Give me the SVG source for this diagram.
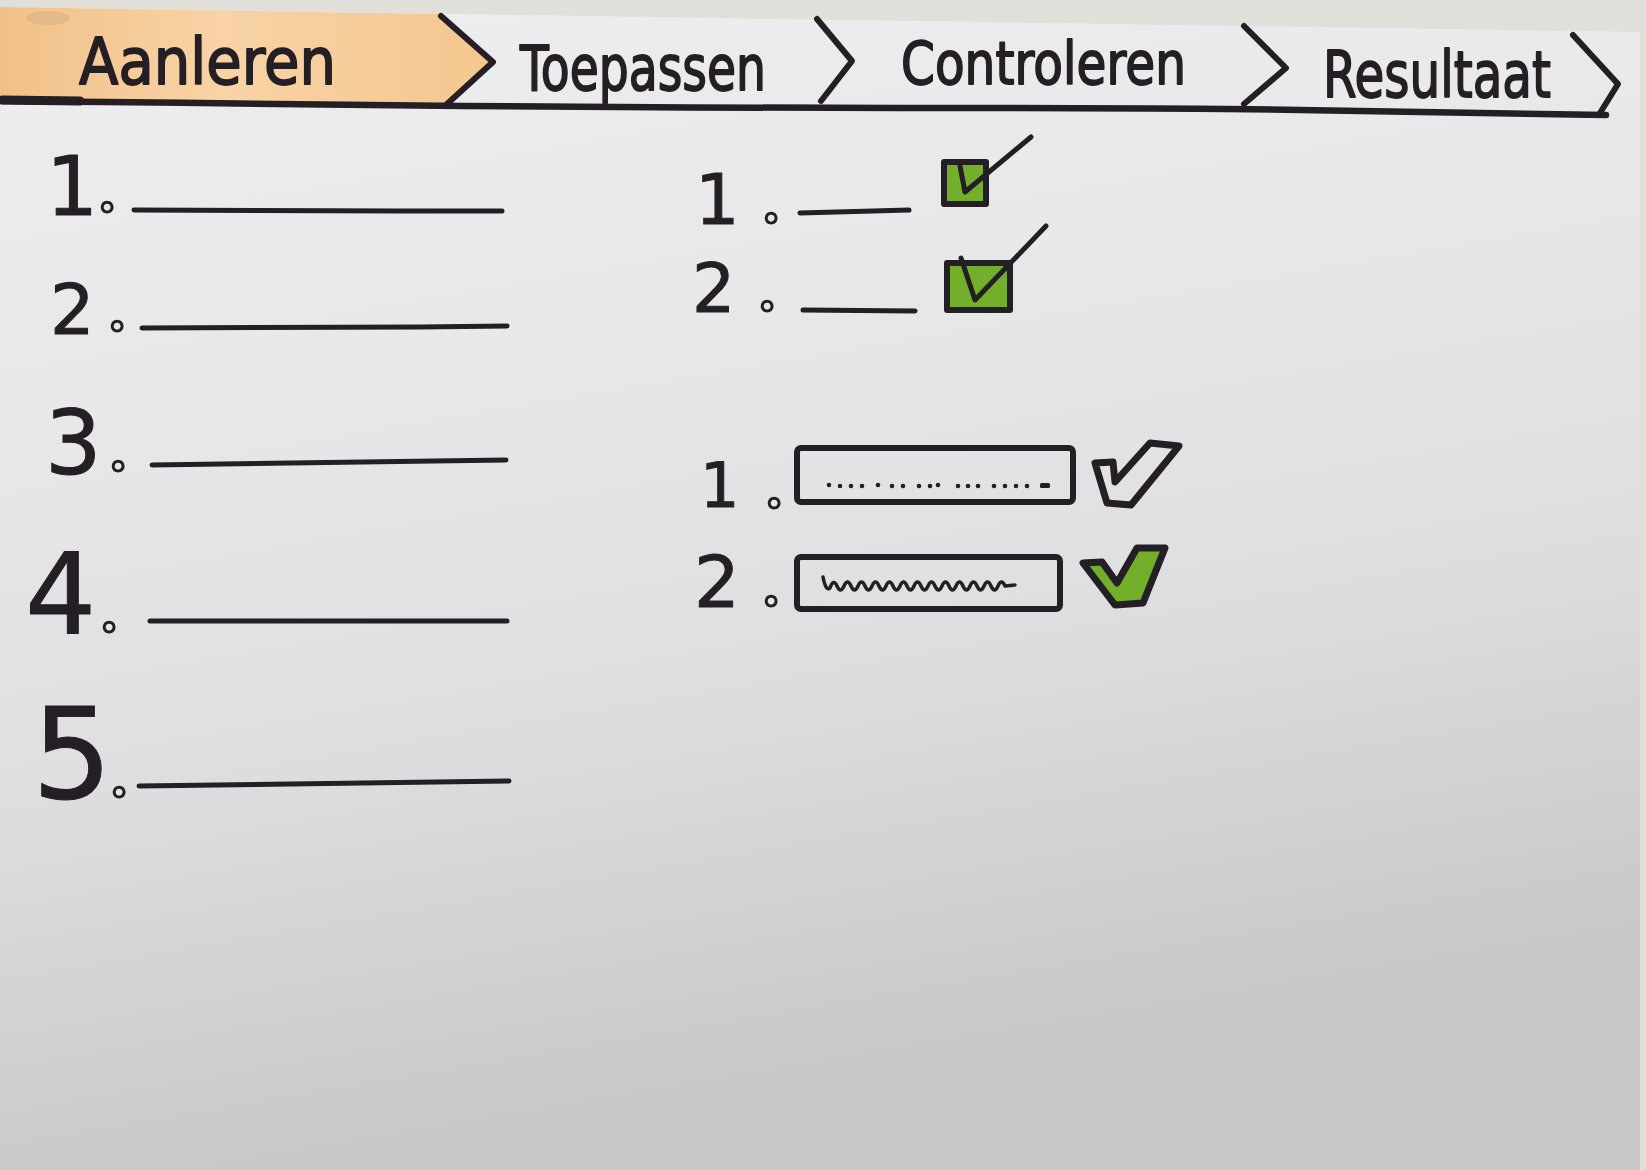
<svg xmlns="http://www.w3.org/2000/svg" width="1646" height="1170" viewBox="0 0 1646 1170">
  <defs>
    <linearGradient id="paper" gradientUnits="userSpaceOnUse" x1="0" y1="0" x2="200" y2="1170">
      <stop offset="0" stop-color="#eeeef0"/>
      <stop offset="0.35" stop-color="#e8e8ea"/>
      <stop offset="0.65" stop-color="#dfdfe1"/>
      <stop offset="1" stop-color="#c9c7ca"/>
    </linearGradient>
    <linearGradient id="tape" x1="0" y1="0" x2="1" y2="0">
      <stop offset="0" stop-color="#f1c088"/>
      <stop offset="0.45" stop-color="#f8d3a6"/>
      <stop offset="1" stop-color="#f5c68f"/>
    </linearGradient>
    <style>
      .ink { fill: none; stroke: #231f24; stroke-linecap: round; stroke-linejoin: round; }
      .rule { stroke-width: 5; }
      .box { fill: #74af2c; stroke: #231f24; stroke-width: 6; stroke-linejoin: round; }
      .tick { fill: none; stroke: #231f24; stroke-width: 5; stroke-linecap: round; stroke-linejoin: round; }
      .label { font-family: "DejaVu Sans", "Liberation Sans", sans-serif; fill: #231f24; stroke: #231f24; stroke-width: 1.8; stroke-linejoin: round; }
      .num { font-family: "DejaVu Sans", "Liberation Sans", sans-serif; fill: #231f24; stroke: #231f24; stroke-width: 1; }
      .dot { font-family: Lato, "Noto Sans", sans-serif; font-weight: 900; font-size: 60px; fill: #e6e6e8; stroke: #231f24; stroke-width: 3; }
      .field { fill: none; stroke: #231f24; stroke-width: 6; stroke-linejoin: round; }
      .mark { fill: #231f24; }
    </style>
  </defs>

  <!-- desk and sheet -->
  <rect x="0" y="0" width="1646" height="1170" fill="#e0dfda"/>
  <polygon points="0,7 1640,32 1640,1170 0,1170" fill="url(#paper)"/>

  <!-- step bar -->
  <g id="tab-bar">
    <polygon points="0,7 441,14 493,63 446,104 0,101" fill="url(#tape)"/>
    <ellipse cx="48" cy="18" rx="22" ry="7" fill="#8a8070" opacity="0.15"/>
    <path class="ink" d="M0,101 C150,102 330,105 462,106 C600,107 760,108 900,108 C1050,108 1200,108 1300,110 C1420,112 1540,114 1606,115" stroke-width="6.5"/>
    <path class="ink" d="M2,100 L80,101" stroke-width="9"/>
  </g>

  <g id="tab-aanleren">
    <text class="label" x="79" y="84" font-size="64" textLength="257" lengthAdjust="spacingAndGlyphs">Aanleren</text>
    <path class="ink" d="M441,16 L493,62 L447,104" stroke-width="6"/>
  </g>
  <g id="tab-toepassen">
    <text class="label" x="520" y="90" font-size="62" textLength="246" lengthAdjust="spacingAndGlyphs">Toepassen</text>
    <path class="ink" d="M817,19 L852,61 L821,101" stroke-width="6"/>
  </g>
  <g id="tab-controleren">
    <text class="label" x="901" y="84" font-size="58" textLength="285" lengthAdjust="spacingAndGlyphs">Controleren</text>
    <path class="ink" d="M1244,26 L1286,68 L1244,104" stroke-width="6"/>
  </g>
  <g id="tab-resultaat">
    <text class="label" x="1323" y="97" font-size="64" textLength="228" lengthAdjust="spacingAndGlyphs">Resultaat</text>
    <path class="ink" d="M1573,35 L1618,84 L1600,113" stroke-width="6"/>
  </g>

  <!-- numbered blank lines -->
  <g id="list-1">
    <text class="num" x="46" y="215" font-size="82">1<tspan class="dot" x="100" y="212">.</tspan></text>
    <path class="ink rule" d="M134,210 L400,211 L502,211"/>
  </g>
  <g id="list-2">
    <text class="num" x="50" y="334" font-size="70">2<tspan class="dot" x="110" y="331">.</tspan></text>
    <path class="ink rule" d="M142,328 L420,327 L507,326"/>
  </g>
  <g id="list-3">
    <text class="num" x="45" y="474" font-size="89">3<tspan class="dot" x="111" y="471">.</tspan></text>
    <path class="ink rule" d="M152,465 L506,460"/>
  </g>
  <g id="list-4">
    <text class="num" x="25" y="633" font-size="112">4<tspan class="dot" x="102" y="632">.</tspan></text>
    <path class="ink rule" d="M150,621 L507,621"/>
  </g>
  <g id="list-5">
    <text class="num" x="32" y="798" font-size="126">5<tspan class="dot" x="112" y="797">.</tspan></text>
    <path class="ink rule" d="M139,786 L509,781"/>
  </g>

  <!-- checkbox answers -->
  <g id="check-1">
    <text class="num" x="695" y="224" font-size="70">1<tspan class="dot" x="764" y="223">.</tspan></text>
    <path class="ink rule" d="M800,213 L909,210"/>
    <rect class="box" x="944" y="162" width="42" height="42"/>
    <path class="tick" d="M960,166 L965,192 L1031,137"/>
  </g>
  <g id="check-2">
    <text class="num" x="692" y="312" font-size="68">2<tspan class="dot" x="760" y="311">.</tspan></text>
    <path class="ink rule" d="M803,310 L915,311"/>
    <rect class="box" x="947" y="263" width="63" height="47"/>
    <path class="tick" d="M961,258 L975,300 L1046,226"/>
  </g>

  <!-- text field answers -->
  <g id="field-1">
    <text class="num" x="700" y="507" font-size="62">1<tspan class="dot" x="767" y="508">.</tspan></text>
    <rect class="field" x="797" y="448" width="276" height="54" rx="4"/>
    <g class="mark">
      <circle cx="829" cy="485" r="2.3"/><circle cx="840" cy="486" r="2.3"/><circle cx="851" cy="486" r="2.3"/>
      <circle cx="862" cy="486" r="2.3"/><circle cx="878" cy="485" r="2.3"/><circle cx="892" cy="486" r="2.3"/>
      <circle cx="903" cy="486" r="2.3"/><circle cx="919" cy="486" r="2.3"/><circle cx="930" cy="486" r="2.3"/>
      <circle cx="938" cy="485" r="2.3"/><circle cx="958" cy="486" r="2.3"/><circle cx="968" cy="486" r="2.3"/>
      <circle cx="978" cy="486" r="2.3"/><circle cx="994" cy="486" r="2.3"/><circle cx="1005" cy="486" r="2.3"/>
      <circle cx="1016" cy="486" r="2.3"/><circle cx="1027" cy="486" r="2.3"/>
      <rect x="1040" y="483" width="10" height="5" rx="1.5"/>
    </g>
    <polygon points="1095,463 1113,462 1115,482 1150,443 1179,446 1131,505 1107,503" fill="none" stroke="#231f24" stroke-width="7" stroke-linejoin="round"/>
  </g>
  <g id="field-2">
    <text class="num" x="694" y="607" font-size="72">2<tspan class="dot" x="764" y="606">.</tspan></text>
    <rect class="field" x="797" y="557" width="263" height="52" rx="4"/>
    <path class="ink" stroke-width="3.5" d="M823,577 Q826,592 830,588 q3.5,-10 7,-2 t7,0 t7,0 t7,0 t7,0 t7,0 t7,0 t7,0 t7,0 t7,0 t7,0 t7,0 t7,0 t7,0 t7,0 t7,0 t7,0 t7,0 t7,0 t7,0 t7,0 t7,0 t7,0 t7,0 t7,0 l10,-1"/>
    <polygon points="1083,563 1102,562 1117,583 1137,548 1165,548 1143,603 1115,605" fill="#74af2c" stroke="#231f24" stroke-width="7" stroke-linejoin="round"/>
  </g>
</svg>
